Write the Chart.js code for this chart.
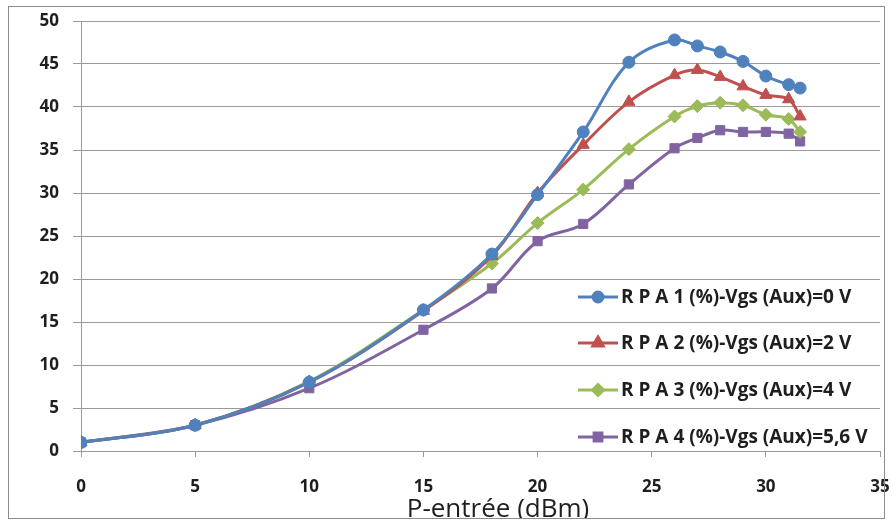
<!DOCTYPE html>
<html>
<head>
<meta charset="utf-8">
<script src="https://cdn.jsdelivr.net/npm/chart.js@4"></script>
<style>
  html, body { margin: 0; padding: 0; background: #fff; }
  #wrap { width: 893px; height: 522px; }
</style>
</head>
<body>
<div id="wrap"><canvas id="myChart" width="893" height="522"></canvas></div>
<script>
  const pIn = [0, 5, 10, 15, 18, 20, 22, 24, 26, 27, 28, 29, 30, 31, 31.5];
  const rpa1 = [1.0, 3.0, 8.0, 16.4, 22.9, 29.8, 37.1, 45.2, 47.8, 47.1, 46.4, 45.3, 43.6, 42.6, 42.2];
  const rpa2 = [1.0, 3.0, 8.0, 16.3, 22.7, 30.0, 35.6, 40.6, 43.7, 44.3, 43.5, 42.4, 41.4, 40.9, 38.9];
  const rpa3 = [1.0, 3.0, 8.1, 16.4, 21.8, 26.5, 30.4, 35.1, 38.9, 40.1, 40.5, 40.2, 39.1, 38.6, 37.1];
  const rpa4 = [1.0, 3.0, 7.3, 14.1, 18.9, 24.4, 26.4, 31.0, 35.2, 36.4, 37.3, 37.1, 37.1, 36.9, 36.0];
  const labels = [
    'R P A 1 (%)-Vgs (Aux)=0 V',
    'R P A 2 (%)-Vgs (Aux)=2 V',
    'R P A 3 (%)-Vgs (Aux)=4 V',
    'R P A 4 (%)-Vgs (Aux)=5,6 V'
  ];
  const xTitle = 'P-entrée (dBm)';
  const colors = ['#4F81BD', '#C0504D', '#9BBB59', '#8064A2'];
  const markers = ['circle', 'triangle', 'rectRot', 'rect'];
  const markerSizes = [6, 7, 6.5, 6.5];

  const series = [rpa1, rpa2, rpa3, rpa4];
  const gridColor = '#9a9a9a';
  const textColor = '#1e1e1e';

  // legend drawn inside the plot area, like the Excel one
  const insideLegend = {
    id: 'insideLegend',
    afterDraw(chart) {
      const ctx = chart.ctx;
      const x0 = 578, x1 = 618;
      const ys = [297, 343, 390, 437];
      ctx.save();
      chart.data.datasets.forEach((ds, i) => {
        const y = ys[i];
        ctx.strokeStyle = ds.borderColor;
        ctx.lineWidth = 3;
        ctx.beginPath();
        ctx.moveTo(x0, y);
        ctx.lineTo(x1, y);
        ctx.stroke();
        ctx.fillStyle = ds.pointBackgroundColor;
        ctx.strokeStyle = ds.pointBorderColor;
        Chart.helpers.drawPoint(ctx, {
          pointStyle: ds.pointStyle,
          radius: ds.pointRadius - 1,
          rotation: 0,
          borderWidth: 1
        }, (x0 + x1) / 2, y);
        ctx.fillStyle = textColor;
        ctx.font = 'bold 19px "Open Sans"';
        ctx.textBaseline = 'middle';
        ctx.textAlign = 'left';
        ctx.fillText(ds.label, 621, y + 1);
      });
      ctx.restore();
    }
  };

  // frame + axis title (Excel puts it a bit right of centre, clipped by the frame)
  const frame = {
    id: 'frame',
    beforeDraw(chart) {
      const ctx = chart.ctx;
      ctx.save();
      ctx.fillStyle = '#fff';
      ctx.fillRect(0, 0, chart.width, chart.height);
      ctx.restore();
    },
    afterDraw(chart) {
      const ctx = chart.ctx;
      ctx.save();
      ctx.fillStyle = textColor;
      ctx.font = '26px "Open Sans"';
      ctx.textAlign = 'center';
      ctx.textBaseline = 'alphabetic';
      ctx.fillText(xTitle, 498, 517);
      ctx.fillStyle = '#fff';
      ctx.fillRect(0, 519, chart.width, 3);
      ctx.strokeStyle = '#8c8c8c';
      ctx.lineWidth = 1;
      ctx.strokeRect(8.5, 6.5, 876, 512);
      ctx.restore();
    }
  };

  new Chart(document.getElementById('myChart'), {
    type: 'line',
    data: {
      datasets: series.map((vals, i) => ({
        label: labels[i],
        data: pIn.map((x, k) => ({ x: x, y: vals[k] })),
        borderColor: colors[i],
        backgroundColor: colors[i],
        pointBackgroundColor: colors[i],
        pointBorderColor: colors[i],
        pointStyle: markers[i],
        pointRadius: markerSizes[i],
        pointBorderWidth: 1,
        borderWidth: 3,
        tension: 0.35,
        fill: false
      }))
    },
    options: {
      responsive: false,
      animation: false,
      layout: {
        padding: { left: 8, top: 21, right: 13, bottom: 0 }
      },
      scales: {
        x: {
          type: 'linear',
          min: 0,
          max: 35,
          ticks: {
            stepSize: 5,
            color: textColor,
            font: { family: 'Open Sans', weight: 'bold', size: 17 },
            padding: 20
          },
          grid: {
            drawOnChartArea: false,
            drawTicks: true,
            tickLength: 6,
            color: gridColor
          },
          border: { display: true, color: gridColor },
          afterFit(scale) {
            scale.height = 71;
            scale.paddingLeft = 0;
            scale.paddingRight = 0;
          }
        },
        y: {
          min: 0,
          max: 50,
          ticks: {
            stepSize: 5,
            color: textColor,
            font: { family: 'Open Sans', weight: 'bold', size: 17 },
            padding: 14
          },
          grid: {
            color: gridColor,
            tickLength: 8,
            lineWidth: 1
          },
          border: { display: true, color: gridColor },
          afterFit(scale) {
            scale.width = 73;
            scale.paddingTop = 0;
            scale.paddingBottom = 0;
          }
        }
      },
      plugins: {
        legend: { display: false },
        tooltip: { enabled: false }
      }
    },
    plugins: [frame, insideLegend]
  });
</script>
</body>
</html>
